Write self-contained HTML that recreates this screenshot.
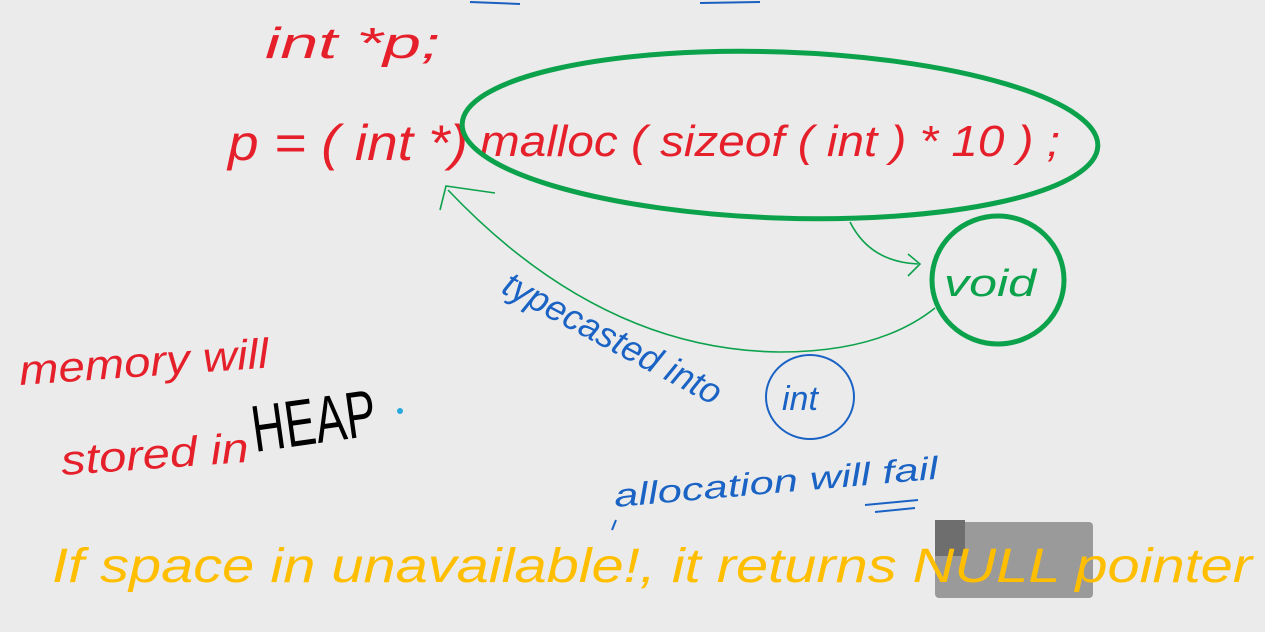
<!DOCTYPE html>
<html><head><meta charset="utf-8"><style>
html,body{margin:0;padding:0;background:#ebebeb;width:1265px;height:632px;overflow:hidden}
svg{display:block}
text{font-family:"Liberation Sans",sans-serif;font-style:italic}
</style></head><body>
<svg width="1265" height="632" viewBox="0 0 1265 632" xmlns="http://www.w3.org/2000/svg">
<rect width="1265" height="632" fill="#ebebeb"/>
<path d="M470 2 L520 4 M700 3 L760 2" stroke="#1a5fc0" stroke-width="2" fill="none"/>
<text x="265" y="58" font-size="44" fill="#e5202b" textLength="175" lengthAdjust="spacingAndGlyphs">int *p;</text>
<text x="228" y="160" font-size="50" fill="#e5202b" textLength="240" lengthAdjust="spacingAndGlyphs">p = ( int *)</text>
<text x="480" y="156" font-size="44" fill="#e5202b" textLength="580" lengthAdjust="spacingAndGlyphs">malloc ( sizeof ( int ) * 10 ) ;</text>
<ellipse cx="780" cy="135" rx="318" ry="83" fill="none" stroke="#0ca24c" stroke-width="5" transform="rotate(2 780 135)"/>
<ellipse cx="998" cy="280" rx="66" ry="64" fill="none" stroke="#0ca24c" stroke-width="5"/>
<text x="944" y="296" font-size="38" fill="#0ca24c" textLength="92" lengthAdjust="spacingAndGlyphs">void</text>
<path d="M850 222 Q870 262 918 264" stroke="#0ca24c" stroke-width="1.6" fill="none"/>
<path d="M908 254 L920 264 L908 276" stroke="#0ca24c" stroke-width="1.6" fill="none"/>
<path d="M935 308 Q880 352 780 352 Q600 350 448 190" stroke="#0ca24c" stroke-width="1.6" fill="none"/>
<path d="M440 210 L446 186 L495 193" stroke="#0ca24c" stroke-width="1.6" fill="none"/>
<text x="0" y="0" font-size="36" fill="#1a63c4" transform="translate(500 292) rotate(28)">typecasted into</text>
<ellipse cx="810" cy="397" rx="44" ry="42" fill="none" stroke="#1a63c4" stroke-width="2"/>
<text x="782" y="410" font-size="34" fill="#1a63c4">int</text>
<text x="20" y="385" font-size="42" fill="#e5202b" transform="rotate(-4 20 385)" textLength="250" lengthAdjust="spacingAndGlyphs">memory will</text>
<text x="62" y="475" font-size="42" fill="#e5202b" transform="rotate(-4 62 475)" textLength="188" lengthAdjust="spacingAndGlyphs">stored in</text>
<text x="255" y="452" font-size="66" fill="#000" style="font-style:normal" transform="rotate(-8 255 452)" textLength="125" lengthAdjust="spacingAndGlyphs">HEAP</text>
<circle cx="400" cy="411" r="3" fill="#29a8e0"/>
<text x="615" y="507" font-size="32" fill="#1a63c4" transform="rotate(-5 615 507)" textLength="325" lengthAdjust="spacingAndGlyphs">allocation will fail</text>
<path d="M865 505 L918 500 M875 512 L915 508" stroke="#1a63c4" stroke-width="2"/>
<path d="M612 530 L616 520" stroke="#1a63c4" stroke-width="2"/>
<rect x="935" y="522" width="158" height="76" rx="4" fill="#9a9a9a"/>
<rect x="935" y="520" width="30" height="36" fill="#6e6e6e"/>
<text x="52" y="582" font-size="48" fill="#ffbf00" textLength="1200" lengthAdjust="spacingAndGlyphs">If space in unavailable!, it returns NULL pointer</text>
</svg>
</body></html>
